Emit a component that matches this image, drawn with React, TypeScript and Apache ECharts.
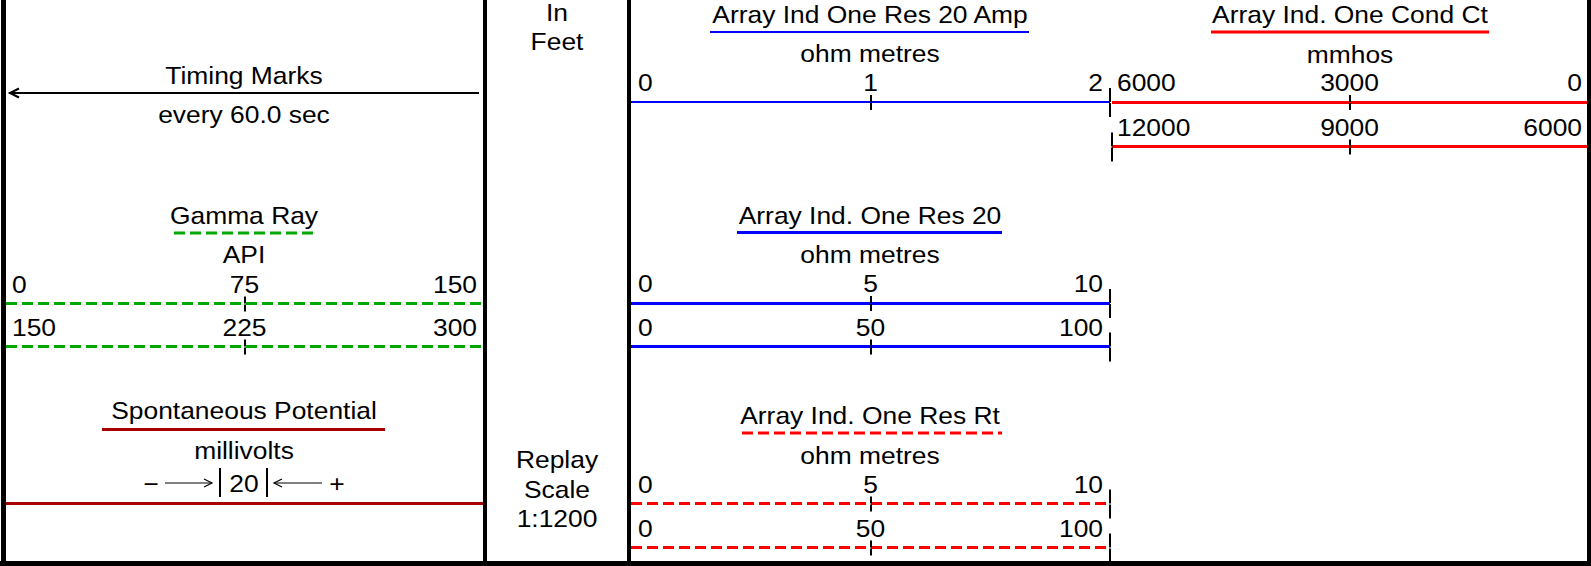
import React, { useEffect, useRef } from 'react';
import * as echarts from 'echarts';

// ---------------- data ----------------
const depthHeader = ['In', 'Feet'];
const replayHeader = ['Replay', 'Scale', '1:1200'];
const timingTitle = 'Timing Marks';
const timingEverySec = 60.0;
const curveTitles = [
  'Gamma Ray',
  'Spontaneous Potential',
  'Array Ind One Res 20 Amp',
  'Array Ind. One Cond Ct',
  'Array Ind. One Res 20',
  'Array Ind. One Res Rt',
];
const curveUnits = ['API', 'millivolts', 'ohm metres', 'mmhos', 'ohm metres', 'ohm metres'];
const gammaRayScales = [[0, 150], [150, 300]]; // [left, right]
const spScaleMv = 20;
const resAmpScales = [[0, 2]];
const condScales = [[6000, 0], [12000, 6000]];
const res20Scales = [[0, 10], [0, 100]];
const resRtScales = [[0, 10], [0, 100]];

// ---------------- styles ----------------
const FONT = '"Liberation Sans", Arial, Helvetica, sans-serif';
const FONT_CSS = `24px ${FONT}`;
const TEXT_SCALE_X = 1.1;
const GREEN = '#00a800';
const BLUE = '#0000ff';
const RED = '#ff0000';
const DARKRED = '#a80000';
const DASH = [11, 5];

type ScaleDef = {
  range: number[];
  x0: number;
  x1: number;
  y: number;
  color: string;
  width: number;
  dash?: number[];
  pad: number;
  edge?: number;
  labels: boolean;
};

const scaleDefs: ScaleDef[] = [
  ...gammaRayScales.map((r, i) => ({ range: r, x0: 6, x1: 483, y: [304, 347][i], color: GREEN, width: 3, dash: DASH, pad: 6, labels: true })),
  ...resAmpScales.map((r) => ({ range: r, x0: 631, x1: 1110, y: 102.5, color: BLUE, width: 2, pad: 7, edge: r[1], labels: true })),
  ...condScales.map((r, i) => ({ range: r, x0: 1112, x1: 1587, y: [102.5, 147][i], color: RED, width: 3, pad: 5, edge: i === 1 ? r[0] : undefined, labels: true })),
  ...res20Scales.map((r, i) => ({ range: r, x0: 631, x1: 1110, y: [303.5, 347][i], color: BLUE, width: 3, pad: 7, edge: r[1], labels: true })),
  ...resRtScales.map((r, i) => ({ range: r, x0: 631, x1: 1110, y: [504, 548][i], color: RED, width: 3, dash: DASH, pad: 7, edge: r[1], labels: true })),
  { range: [-spScaleMv, spScaleMv], x0: 6, x1: 483, y: 504, color: DARKRED, width: 3, pad: 0, labels: false },
  { range: [0, timingEverySec], x0: 9, x1: 479, y: 93, color: '#000', width: 2, pad: 0, labels: false },
];

type LabelItem = { axisIndex: number; value: number; align: string; y: number; pad: number };

function buildAxes() {
  const grids: any[] = [];
  const xAxes: any[] = [];
  const yAxes: any[] = [];
  const labelItems: LabelItem[] = [];
  const addGrid = (x0: number, x1: number, y: number) => {
    const gi = grids.length;
    grids.push({ left: x0, width: x1 - x0, top: y - 0.5, height: 1, containLabel: false, outerBoundsMode: 'none', show: false });
    yAxes.push({ gridIndex: gi, type: 'value', show: false, min: 0, max: 1 });
    return gi;
  };
  const tickAxis = (gi: number, pos: string, mn: number, mx: number, inv: boolean, vals: number[], len: number) => ({
    gridIndex: gi,
    type: 'value',
    position: pos,
    min: mn,
    max: mx,
    inverse: inv,
    axisLine: { show: false, onZero: false },
    axisTick: { show: true, customValues: vals, length: len, inside: false, lineStyle: { color: '#000', width: 2 } },
    axisLabel: { show: false },
    splitLine: { show: false },
  });

  scaleDefs.forEach((s) => {
    const lo = s.range[0];
    const hi = s.range[1];
    const inv = lo > hi;
    const mn = Math.min(lo, hi);
    const mx = Math.max(lo, hi);
    const mid = (lo + hi) / 2;
    const gi = addGrid(s.x0, s.x1, s.y);
    const mainIndex = xAxes.length;
    xAxes.push({
      gridIndex: gi,
      type: 'value',
      position: 'top',
      min: mn,
      max: mx,
      inverse: inv,
      axisLine: { show: true, onZero: false, lineStyle: { color: s.color, width: s.width, type: s.dash ? s.dash : 'solid', cap: 'butt' } },
      axisTick: s.labels
        ? { show: true, customValues: [mid], length: 7, inside: false, lineStyle: { color: '#000', width: 2 } }
        : { show: false },
      axisLabel: { show: false },
      splitLine: { show: false },
    });
    if (s.labels) {
      xAxes.push(tickAxis(gi, 'bottom', mn, mx, inv, [mid], 7));
      labelItems.push({ axisIndex: mainIndex, value: lo, align: 'left', y: s.y - 20, pad: s.pad });
      labelItems.push({ axisIndex: mainIndex, value: mid, align: 'center', y: s.y - 20, pad: 0 });
      labelItems.push({ axisIndex: mainIndex, value: hi, align: 'right', y: s.y - 20, pad: -s.pad });
    }
    if (s.edge !== undefined) {
      const ge = addGrid(s.x0, s.x1, s.y);
      xAxes.push(tickAxis(ge, 'top', mn, mx, inv, [s.edge], 14));
      xAxes.push(tickAxis(ge, 'bottom', mn, mx, inv, [s.edge], 14));
    }
  });
  return { grids, xAxes, yAxes, labelItems };
}

const txt = (text: string, x: number, y: number, align = 'center') => ({
  type: 'text',
  x,
  y,
  scaleX: TEXT_SCALE_X,
  silent: true,
  style: { text, font: FONT_CSS, fill: '#000', textAlign: align, textVerticalAlign: 'middle', align, verticalAlign: 'middle' },
});
const ln = (x1: number, y1: number, x2: number, y2: number, stroke: string, lineWidth: number, dash?: number[]) => ({
  type: 'line',
  silent: true,
  shape: { x1, y1, x2, y2 },
  style: { stroke, lineWidth, lineDash: dash || null },
});
const rect = (x: number, y: number, width: number, height: number) => ({
  type: 'rect',
  silent: true,
  shape: { x, y, width, height },
  style: { fill: '#000' },
});
const poly = (points: number[][], lineWidth: number) => ({
  type: 'polyline',
  silent: true,
  shape: { points },
  style: { stroke: '#000', lineWidth, fill: null },
});

function decorations() {
  return [
    // frame
    rect(1, 0, 5, 566),
    rect(483, 0, 4, 566),
    rect(627, 0, 4, 566),
    rect(1587, 0, 4, 566),
    rect(0, 561, 1591, 5),
    // depth column
    txt(depthHeader[0], 557, 12.5),
    txt(depthHeader[1], 557, 41),
    txt(replayHeader[0], 557, 459),
    txt(replayHeader[1], 557, 489),
    txt(replayHeader[2], 557, 518.5),
    // timing marks
    txt(timingTitle, 244, 75),
    txt(`every ${timingEverySec.toFixed(1)} sec`, 244, 114),
    poly([[19, 88.5], [10, 93], [19, 97.5]], 2),
    // gamma ray
    txt(curveTitles[0], 244, 215),
    ln(174, 233, 317, 233, GREEN, 3, DASH),
    txt(curveUnits[0], 244, 254),
    // spontaneous potential
    txt(curveTitles[1], 244, 410.5),
    ln(102, 429.5, 385, 429.5, DARKRED, 3),
    txt(curveUnits[1], 244, 450),
    txt('\u2212', 151, 483),
    ln(165, 483, 212, 483, '#000', 1.2),
    poly([[204, 479], [212, 483], [204, 487]], 1.2),
    ln(220, 468, 220, 497, '#000', 2),
    txt(String(spScaleMv), 244, 483),
    ln(267, 468, 267, 497, '#000', 2),
    ln(274, 483, 322, 483, '#000', 1.2),
    poly([[282, 479], [274, 483], [282, 487]], 1.2),
    txt('+', 337, 483),
    // array ind res 20 amp
    txt(curveTitles[2], 870, 14),
    ln(710, 32, 1029, 32, BLUE, 2),
    txt(curveUnits[2], 870, 53),
    // cond
    txt(curveTitles[3], 1350, 14),
    ln(1211, 32, 1489, 32, RED, 3),
    txt(curveUnits[3], 1350, 54),
    // res 20
    txt(curveTitles[4], 870, 215),
    ln(737, 232.5, 1002, 232.5, BLUE, 3),
    txt(curveUnits[4], 870, 254),
    // res rt
    txt(curveTitles[5], 870, 415),
    ln(742, 433, 1002, 433, RED, 3, DASH),
    txt(curveUnits[5], 870, 455),
  ];
}

export default function App() {
  const ref = useRef<HTMLDivElement>(null);
  useEffect(() => {
    document.body.style.margin = '0';
    const chart = echarts.init(ref.current!, null, { renderer: 'svg' });
    const { grids, xAxes, yAxes, labelItems } = buildAxes();
    chart.setOption({
      animation: false,
      backgroundColor: '#ffffff',
      grid: grids,
      xAxis: xAxes,
      yAxis: yAxes,
      series: [],
    } as any);
    // tick labels placed through the axes' own scales
    const labels = labelItems.map((it) => {
      const px = chart.convertToPixel({ xAxisIndex: it.axisIndex } as any, it.value) as unknown as number;
      return txt(String(it.value), px + it.pad, it.y, it.align);
    });
    chart.setOption({ graphic: { elements: [...decorations(), ...labels] } } as any);
    return () => chart.dispose();
  }, []);
  return (
    <div
      ref={ref}
      style={{ position: 'absolute', left: 0, top: 0, width: 1591, height: 566, background: '#fff' }}
    />
  );
}
